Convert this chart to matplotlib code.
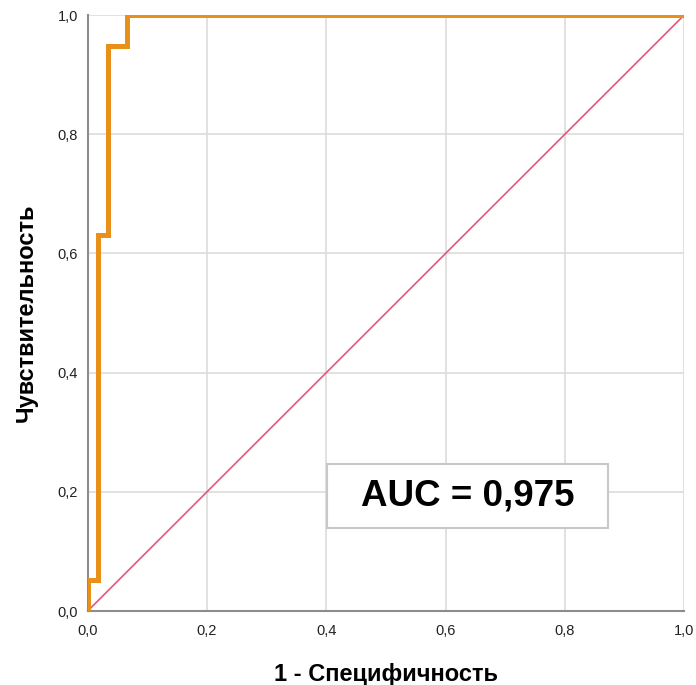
import matplotlib
matplotlib.use("Agg")
import matplotlib.pyplot as plt
from matplotlib.ticker import FuncFormatter
from matplotlib.patches import Rectangle

plt.rcParams['font.family'] = ['Liberation Sans', 'DejaVu Sans']

fpr = [0.0, 0.0, 1/60, 1/60, 2/60, 2/60, 4/60, 4/60, 1.0]
tpr = [0.0, 1/19, 1/19, 12/19, 12/19, 18/19, 18/19, 1.0, 1.0]
diag = [0.0, 1.0]
ticks = [0.0, 0.2, 0.4, 0.6, 0.8, 1.0]
auc_text = "AUC = 0,975"

fig = plt.figure(figsize=(6.96, 6.85), dpi=100)
ax = fig.add_axes([0.126, 0.108, 0.857, 0.870])

ax.set_xlim(0, 1)
ax.set_ylim(0, 1)
ax.set_xticks(ticks)
ax.set_yticks(ticks)
fmt = FuncFormatter(lambda v, p: f"{v:.1f}".replace('.', ','))
ax.xaxis.set_major_formatter(fmt)
ax.yaxis.set_major_formatter(fmt)
ax.grid(True, color='#dcdcdc', linewidth=1.2)
ax.set_axisbelow(True)
for s in ['top', 'right']:
    ax.spines[s].set_visible(False)
for s in ['left', 'bottom']:
    ax.spines[s].set_color('#8c8c8c')
    ax.spines[s].set_linewidth(1.5)
ax.tick_params(length=0, labelsize=10.5, colors='#222222')
ax.tick_params(axis='x', pad=9)
ax.tick_params(axis='y', pad=7)

ax.plot(diag, diag, color='#e8557a', linewidth=1.2, zorder=3)
ax.plot(fpr, tpr, color='#e8901a', linewidth=3.6, zorder=4, solid_joinstyle='miter')

ax.add_patch(Rectangle((0.4015, 0.139), 0.4715, 0.1076, transform=ax.transAxes,
                       facecolor='white', edgecolor='#c8c8c8', linewidth=1.5, zorder=5))
ax.text(0.637, 0.193, auc_text, fontsize=26.5, fontweight='bold', ha='center', va='center',
        transform=ax.transAxes, zorder=6)

ax.set_xlabel("1 - Специфичность", fontsize=17, fontweight='bold', labelpad=18)
ax.set_ylabel("Чувствительность", fontsize=17, fontweight='bold', labelpad=14)

fig.savefig("out.png", dpi=100)
